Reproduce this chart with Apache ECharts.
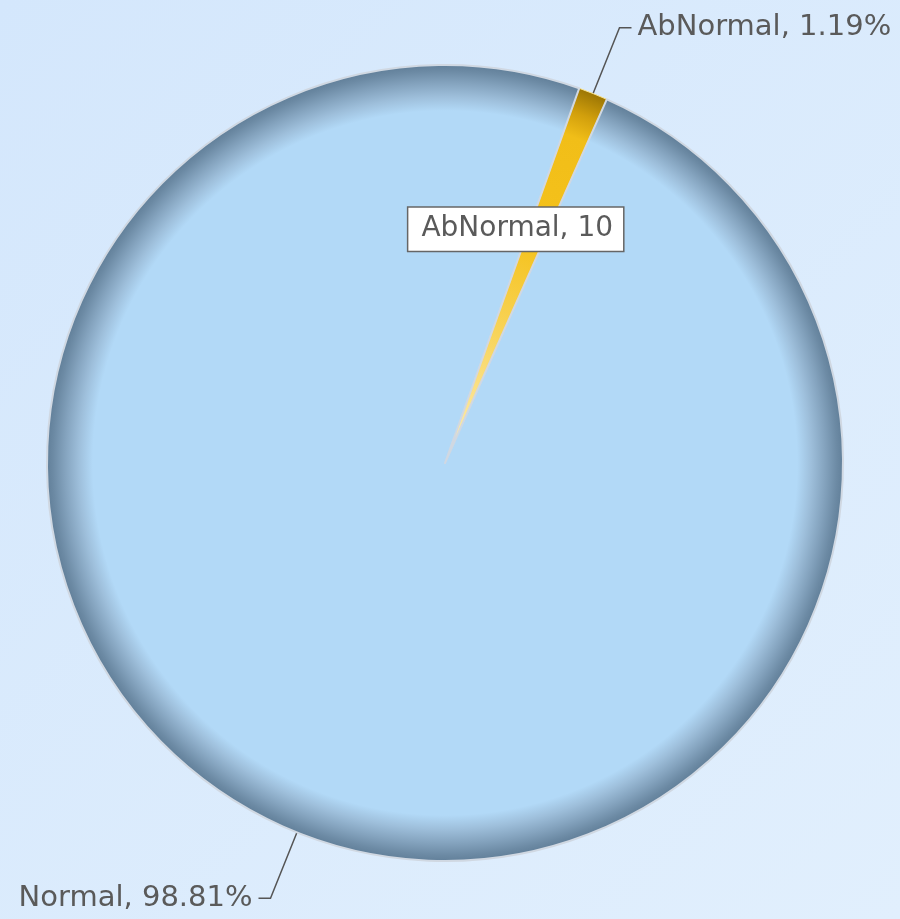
<!DOCTYPE html>
<html>
<head>
<meta charset="utf-8">
<script src="https://cdn.jsdelivr.net/npm/echarts@6/dist/echarts.min.js"></script>
<style>
html,body{margin:0;padding:0;}
#main{width:900px;height:919px;}
</style>
</head>
<body>
<div id="main"></div>
<script>
var categories = ['AbNormal', 'Normal'];
var values = [10, 830];

var CX = 445, CY = 463, R = 398;
var chart = echarts.init(document.getElementById('main'));

var normalFill = {
  type: 'radial', x: CX, y: CY, r: R, global: true,
  colorStops: [
    {offset: 0, color: '#b2d9f7'},
    {offset: 0.885, color: '#b2d9f7'},
    {offset: 0.92, color: '#9ebfdb'},
    {offset: 0.955, color: '#84a3be'},
    {offset: 0.985, color: '#6c8aa4'},
    {offset: 1, color: '#62809a'}
  ]
};
var abFill = {
  type: 'radial', x: CX, y: CY, r: R, global: true,
  colorStops: [
    {offset: 0, color: '#fdf0c0'},
    {offset: 0.35, color: '#f8d45a'},
    {offset: 0.6, color: '#f5c21c'},
    {offset: 0.88, color: '#f1be18'},
    {offset: 0.94, color: '#d19f0c'},
    {offset: 1, color: '#9c7604'}
  ]
};

var pieData = categories.map(function (c, i) {
  return {
    name: c,
    value: values[i],
    itemStyle: i === 0
      ? {color: abFill, borderColor: '#fbe48e', borderWidth: 1}
      : {color: normalFill, borderColor: '#d0d8e2', borderWidth: 2}
  };
});

var overlayData = categories.map(function (c, i) {
  return {
    name: c,
    value: values[i],
    label: {show: i === 0}
  };
});

var font = 'DejaVu Sans, Verdana, sans-serif';

chart.setOption({
  backgroundColor: {
    type: 'linear', x: 0, y: 0, x2: 1, y2: 1,
    colorStops: [{offset: 0, color: '#d4e7fc'}, {offset: 1, color: '#e1effd'}]
  },
  animation: false,
  series: [
    {
      type: 'pie',
      center: [CX, CY],
      radius: [0, R],
      startAngle: 70.3,
      clockwise: true,
      avoidLabelOverlap: false,
      silent: true,
      data: pieData,
      label: {
        show: true,
        position: 'outside',
        formatter: function (p) { return p.name + ', ' + p.percent.toFixed(2) + '%'; },
        fontFamily: font,
        fontSize: 29,
        color: '#5a5a5a',
        distanceToLabelLine: 6
      },
      percentPrecision: 2,
      labelLine: {
        show: true,
        length: 71,
        length2: 12,
        lineStyle: {color: '#555555', width: 1.5}
      },
      emphasis: {disabled: true}
    },
    {
      type: 'pie',
      center: [CX, CY],
      radius: [0, 487],
      startAngle: 70.3,
      clockwise: true,
      silent: true,
      z: 5,
      data: overlayData,
      itemStyle: {color: 'rgba(0,0,0,0)', borderWidth: 0},
      label: {
        position: 'inside',
        formatter: '{b}, {c}',
        fontFamily: font,
        fontSize: 28,
        color: '#5a5a5a',
        backgroundColor: '#ffffff',
        borderColor: '#666666',
        borderWidth: 1.5,
        padding: [9, 10, 6, 13],
        offset: [-21, -5]
      },
      labelLine: {show: false},
      emphasis: {disabled: true}
    }
  ]
});
</script>
</body>
</html>
